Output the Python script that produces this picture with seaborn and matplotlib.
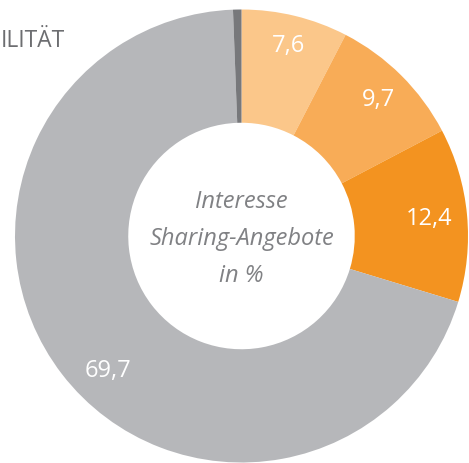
import numpy as np
import matplotlib
matplotlib.use("Agg")
import matplotlib.pyplot as plt
import seaborn as sns

categories = ["Sehr großes Interesse", "Großes Interesse", "Mittleres Interesse", "Kein Interesse", "Keine Angabe"]
values = [7.6, 9.7, 12.4, 69.7, 0.6]
labels = ["7,6", "9,7", "12,4", "69,7", ""]
colors = ["#FBC78A", "#F8AC57", "#F39320", "#B6B7BA", "#77787B"]
center_lines = ["Interesse", "Sharing-Angebote", "in %"]
header = "ILITÄT"

sns.set_theme(style="white")
plt.rcParams['font.family'] = ['Open Sans', 'DejaVu Sans']

W, H = 469, 464
fig = plt.figure(figsize=(W / 100, H / 100), dpi=100)
ax = fig.add_axes([0, 0, 1, 1])

cx, cy, R = 241.5, 237.0, 226.5
wedges, _ = ax.pie(values, colors=colors, startangle=90, counterclock=False,
                   radius=1.0, wedgeprops=dict(width=0.5, linewidth=0))

ax.set_aspect('auto')
ax.set_xlim(-cx / R, (W - cx) / R)
ax.set_ylim(-(H - cy) / R, cy / R)
ax.axis('off')

# value labels
label_r = [0.87, 0.855, 0.83, 0.835, 0]
for i, (w, lab) in enumerate(zip(wedges, labels)):
    if not lab:
        continue
    ang = np.deg2rad((w.theta1 + w.theta2) / 2)
    if i == 3:
        ang = np.deg2rad(225.3)
    r = label_r[i]
    ax.text(r * np.cos(ang), r * np.sin(ang), lab, ha='center', va='center',
            color='white', fontsize=17, fontweight='normal')

# center text
for j, line in enumerate(center_lines):
    ax.text(0, (cy - (202 + 37 * j)) / R, line, ha='center', va='center',
            color='#808184', fontsize=17, style='italic', fontweight='normal')

fig.text(0.5 / W, 1 - 41 / H, header, ha='left', va='center',
         color='#6D6E71', fontsize=16.5, fontweight='normal')

fig.savefig("out.png", dpi=100)
